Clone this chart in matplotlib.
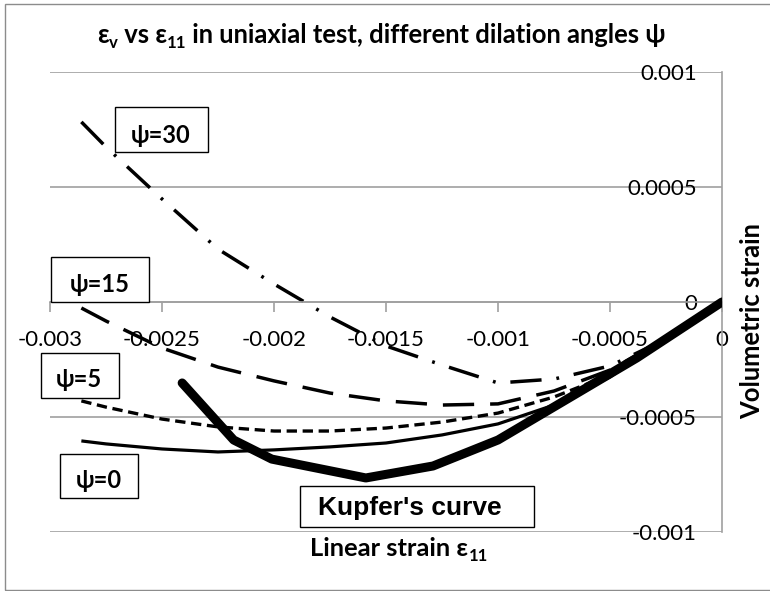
import matplotlib
matplotlib.use("Agg")
import matplotlib.pyplot as plt
from matplotlib.patches import Rectangle
from matplotlib.transforms import IdentityTransform

plt.rcParams['font.family'] = ['Lato', 'DejaVu Sans']

# linear strain values where the dilation-angle curves were read
strain_psi = [-0.00286, -0.00275, -0.0025, -0.00225, -0.002, -0.00175, -0.0015,
              -0.00125, -0.001, -0.00075, -0.0005, -0.00025, 0.0]
vol_psi30 = [0.000783, 0.000674, 0.000448, 0.000230, 0.0000783, -0.0000652, -0.000191,
             -0.000274, -0.000352, -0.000335, -0.000278, -0.000161, 0.0]
vol_psi15 = [-0.0000261, -0.0000826, -0.0002, -0.000283, -0.000343, -0.000396, -0.00043,
             -0.000448, -0.000443, -0.000387, -0.000296, -0.000161, 0.0]
vol_psi5 = [-0.00043, -0.000457, -0.000509, -0.000543, -0.000561, -0.000561, -0.000548,
            -0.000522, -0.000483, -0.000413, -0.000317, -0.000161, 0.0]
vol_psi0 = [-0.000604, -0.000617, -0.000639, -0.000652, -0.000643, -0.00063, -0.000613,
            -0.000578, -0.00053, -0.000448, -0.000326, -0.000161, 0.0]

# Kupfer's experimental curve
kupfer_x = [-0.00241, -0.00218, -0.00201, -0.00159, -0.00129, -0.001, -0.00038, 0.0]
kupfer_y = [-0.000352, -0.0006, -0.000683, -0.000765, -0.000713, -0.0006, -0.000243, 0.0]

xticks = [-0.003, -0.0025, -0.002, -0.0015, -0.001, -0.0005, 0.0]
xtick_labels = ['-0.003', '-0.0025', '-0.002', '-0.0015', '-0.001', '-0.0005', '0']
yticks = [-0.001, -0.0005, 0.0, 0.0005, 0.001]
ytick_labels = ['-0.001', '-0.0005', '0', '0.0005', '0.001']

W, H = 770, 591
gray = '#a0a0a0'


def px(x, y):
    # pixel position (from top left) to figure fraction
    return x / W, 1 - y / H


fig = plt.figure(figsize=(W / 100, H / 100), dpi=100)
renderer = fig.canvas.get_renderer()
ax = fig.add_axes([50 / W, 1 - 532 / H, 672 / W, 460 / H])

ax.plot(strain_psi, vol_psi0, color='black', lw=2.3, solid_capstyle='butt')
ax.plot(strain_psi, vol_psi5, color='black', lw=2.4, linestyle=(0, (3.1, 1.7)))
ax.plot(strain_psi, vol_psi15, color='black', lw=2.5, linestyle=(0, (9, 4.6)))
ax.plot(strain_psi, vol_psi30, color='black', lw=2.5, linestyle=(0, (9, 4.3, 0.8, 4.3)))
ax.plot(kupfer_x, kupfer_y, color='black', lw=6.5, solid_capstyle='round',
        solid_joinstyle='round', zorder=5)

ax.set_xlim(-0.003, 0)
ax.set_ylim(-0.001, 0.001)
ax.set_xticks(xticks)
ax.set_xticklabels(xtick_labels)
ax.set_yticks(yticks)
ax.set_yticklabels(ytick_labels)

ax.spines['top'].set_visible(False)
ax.spines['right'].set_visible(False)
ax.spines['left'].set_position(('data', 0))
ax.spines['bottom'].set_position(('data', 0))
for side in ['left', 'bottom']:
    ax.spines[side].set_color(gray)
    ax.spines[side].set_linewidth(1.2)
ax.yaxis.grid(True, color=gray, lw=1.2)
ax.set_axisbelow(True)
ax.tick_params(axis='y', length=0, pad=18, labelsize=16)
ax.tick_params(axis='x', direction='out', length=7, width=1.2, color=gray, pad=13, labelsize=16)


def text_row(cx, base, pieces, width, size=16):
    # pieces: (text, relative size, drop below baseline in em); fitted to width pixels
    arts = [fig.text(0, 0, s, fontsize=size * rs, fontweight='bold', ha='left',
                     va='baseline', transform=IdentityTransform()) for s, rs, dy in pieces]
    total = sum(a.get_window_extent(renderer).width for a in arts)
    size = size * width / total
    for a, (s, rs, dy) in zip(arts, pieces):
        a.set_fontsize(size * rs)
    widths = [a.get_window_extent(renderer).width for a in arts]
    x = cx - sum(widths) / 2
    em = size * 100 / 72
    for a, w, (s, rs, dy) in zip(arts, widths, pieces):
        a.set_position((x, H - base - dy * em))
        x += w


# title and axis titles
text_row(381.5, 43, [('ε', 1, 0), ('v', 0.65, 0.2), (' vs ε', 1, 0), ('11', 0.65, 0.2),
                     (' in uniaxial test, different dilation angles ψ', 1, 0)], 573)
text_row(399, 556, [('Linear strain ε', 1, 0), ('11', 0.65, 0.2)], 178)
ylab = fig.text(*px(752, 321), 'Volumetric strain', rotation=90, ha='center', va='center',
                fontsize=16, fontweight='bold')
ylab.set_fontsize(16 * 197 / ylab.get_window_extent(renderer).height)

# labelled boxes
boxes = [
    ('ψ=30', (115, 107, 208, 152), 161, 143, 'Lato', 17),
    ('ψ=15', (51, 257, 149, 302), 100, 292, 'Lato', 17),
    ('ψ=5', (41, 353, 119, 398), 79, 387, 'Lato', 17),
    ('ψ=0', (60, 454, 138, 498), 99, 488, 'Lato', 17),
    ("Kupfer's curve", (300, 486, 534, 527), 410, 515, 'Liberation Sans', 19),
]
for label, (x0, y0, x1, y1), tx, ty, fam, fs in boxes:
    bx, by = px(x0, y1)
    fig.patches.append(Rectangle((bx, by), (x1 - x0) / W, (y1 - y0) / H, transform=fig.transFigure,
                                 facecolor='white', edgecolor='black', lw=1.0, zorder=6))
    fig.text(*px(tx, ty), label, ha='center', va='baseline', fontsize=fs, fontweight='bold',
             family=[fam, 'DejaVu Sans'], zorder=7)

# chart border
bx, by = px(5, 590)
fig.patches.append(Rectangle((bx, by), 780 / W, 586 / H, transform=fig.transFigure,
                             facecolor='none', edgecolor='#8c8c8c', lw=1.0))

fig.savefig('out.png', dpi=100)
